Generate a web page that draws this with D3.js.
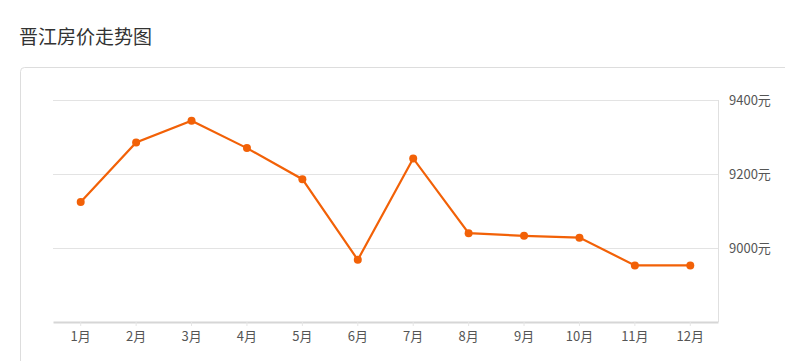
<!DOCTYPE html>
<html>
<head>
<meta charset="utf-8">
<script src="https://cdn.jsdelivr.net/npm/d3@7"></script>
<style>
  body { margin: 0; background: #fff; font-family: "Microsoft YaHei", "Noto Sans CJK SC", sans-serif; }
</style>
</head>
<body>
<div id="chart"></div>
<script>
// months and average price (元/㎡)
var months = ["1月", "2月", "3月", "4月", "5月", "6月", "7月", "8月", "9月", "10月", "11月", "12月"];
var prices = [9124, 9285, 9344, 9270, 9186, 8968, 9242, 9040, 9033, 9028, 8953, 8953];
var yTicks = [9000, 9200, 9400];

var width = 785, height = 361;
var plot = { left: 53, right: 718, top: 100, bottom: 322 };

var svg = d3.select("#chart").append("svg")
  .attr("width", width)
  .attr("height", height);

// title
svg.append("text")
  .attr("x", 19)
  .attr("y", 44)
  .attr("font-size", 19)
  .attr("fill", "#333")
  .text("晋江房价走势图");

// card
svg.append("rect")
  .attr("x", 20.5)
  .attr("y", 67.5)
  .attr("width", 800)
  .attr("height", 320)
  .attr("rx", 4)
  .attr("fill", "#fff")
  .attr("stroke", "#ddd");

var x = d3.scaleBand()
  .domain(months)
  .range([plot.left, plot.right]);

var y = d3.scaleLinear()
  .domain([8800, 9400])
  .range([plot.bottom, plot.top]);

// grid lines
svg.append("g")
  .selectAll("line")
  .data(yTicks)
  .join("line")
  .attr("x1", plot.left)
  .attr("x2", plot.right)
  .attr("y1", d => Math.round(y(d)) + 0.5)
  .attr("y2", d => Math.round(y(d)) + 0.5)
  .attr("stroke", "#e3e3e3");

// right axis line + labels
svg.append("line")
  .attr("x1", plot.right + 0.5)
  .attr("x2", plot.right + 0.5)
  .attr("y1", plot.top)
  .attr("y2", plot.bottom)
  .attr("stroke", "#e0e0e0");

svg.append("g")
  .selectAll("text")
  .data(yTicks)
  .join("text")
  .attr("x", 729)
  .attr("y", d => y(d))
  .attr("dy", "0.35em")
  .attr("font-size", 13)
  .attr("fill", "#555")
  .text(d => d + "元");

// bottom axis
var xAxis = svg.append("g")
  .attr("transform", "translate(0," + plot.bottom + ")")
  .call(d3.axisBottom(x).tickSize(4).tickSizeOuter(0).tickPadding(6));
xAxis.select(".domain").attr("stroke", "#d6d6d6").attr("stroke-width", 2);
xAxis.selectAll(".tick line").attr("stroke", "#e6e6e6");
xAxis.selectAll(".tick text")
  .attr("font-size", 13)
  .attr("fill", "#555")
  .attr("font-family", "\"Microsoft YaHei\", \"Noto Sans CJK SC\", sans-serif");

// line
var cx = d => x(d) + x.bandwidth() / 2;
var line = d3.line()
  .x((d, i) => cx(months[i]))
  .y(d => y(d));

svg.append("path")
  .datum(prices)
  .attr("d", line)
  .attr("fill", "none")
  .attr("stroke", "#f26107")
  .attr("stroke-width", 2.2);

svg.append("g")
  .selectAll("circle")
  .data(prices)
  .join("circle")
  .attr("cx", (d, i) => cx(months[i]))
  .attr("cy", d => y(d))
  .attr("r", 4)
  .attr("fill", "#f26107");
</script>
</body>
</html>
